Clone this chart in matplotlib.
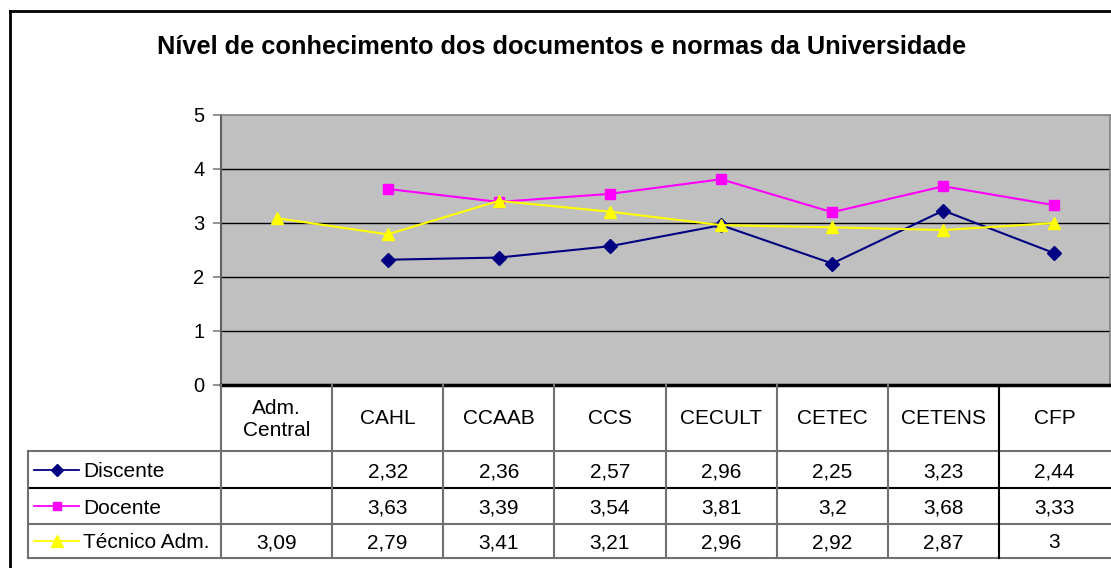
import numpy as np
import matplotlib
matplotlib.use("Agg")
import matplotlib.pyplot as plt
from matplotlib.lines import Line2D

plt.rcParams["font.family"] = ["Liberation Sans", "DejaVu Sans"]

# ── data ──────────────────────────────────────────────────────────────
categories = ["Adm.\nCentral", "CAHL", "CCAAB", "CCS", "CECULT", "CETEC", "CETENS", "CFP"]
discente = [None, 2.32, 2.36, 2.57, 2.96, 2.25, 3.23, 2.44]
docente = [None, 3.63, 3.39, 3.54, 3.81, 3.2, 3.68, 3.33]
tecnico = [3.09, 2.79, 3.41, 3.21, 2.96, 2.92, 2.87, 3]
series_names = ["Discente", "Docente", "Técnico Adm."]
title = "Nível de conhecimento dos documentos e normas da Universidade"

series = [discente, docente, tecnico]
styles = [
    dict(color="#000080", marker="D", ms=7),
    dict(color="#FF00FF", marker="s", ms=7),
    dict(color="#FFFF00", marker="^", ms=9),
]

W, H = 1111, 568
fig = plt.figure(figsize=(W / 100, H / 100), dpi=100)
fig.patch.set_facecolor("white")


def fx(px):
    return px / W


def fy(py):
    return 1 - py / H


# plot area (pixel layout)
L, R, T, B = 221, 1110, 115, 385
ax = fig.add_axes([fx(L), fy(B), fx(R) - fx(L), fy(T) - fy(B)])
ax.set_facecolor("#C0C0C0")
x = np.arange(len(categories))
for vals, st in zip(series, styles):
    y = np.array([np.nan if v is None else v for v in vals], dtype=float)
    ax.plot(x, y, color=st["color"], lw=1.5, marker=st["marker"],
            ms=st["ms"], mfc=st["color"], mec=st["color"], zorder=3)

ax.set_xlim(-0.5, len(categories) - 0.5)
ax.set_ylim(0, 5)
ax.set_yticks(range(6))
ax.set_xticks([])
for v in range(1, 5):
    ax.axhline(v, color="black", lw=1, zorder=1)
ax.tick_params(axis="y", length=6, width=1.2, color="#808080",
               labelsize=14.5, pad=6)
for s in ["top", "right"]:
    ax.spines[s].set_color("#808080")
    ax.spines[s].set_linewidth(1.2)
ax.spines["left"].set_color("#606060")
ax.spines["left"].set_linewidth(1.5)
ax.spines["bottom"].set_color("black")
ax.spines["bottom"].set_linewidth(2.5)

# ── data table below the plot ────────────────────────────────────────
row_edges = [385, 451, 488, 524, 558]
tab = fig.add_axes([fx(L), fy(row_edges[-1]), fx(R) - fx(L),
                    fy(row_edges[0]) - fy(row_edges[-1])])
tab.set_xlim(-0.5, len(categories) - 0.5)
tab.set_ylim(row_edges[-1], row_edges[0])
tab.axis("off")
unit = (R - L) / len(categories)
x_left = -0.5 - (L - 28) / unit
grid_c = "#707070"
fs = 15

for i, cat in enumerate(categories):
    tab.text(i, (row_edges[0] + row_edges[1]) / 2 + 1, cat, ha="center",
             va="center", fontsize=fs, linespacing=1.2)
for r, (vals, name, st) in enumerate(zip(series, series_names, styles)):
    yc = (row_edges[r + 1] + row_edges[r + 2]) / 2
    for i, v in enumerate(vals):
        if v is None:
            continue
        txt = f"{v:g}".replace(".", ",")
        tab.text(i, yc, txt, ha="center", va="center_baseline", fontsize=fs)
    k0 = x_left + 6 / unit
    k1 = x_left + 51 / unit
    tab.add_line(Line2D([k0, k1], [yc, yc], color=st["color"], lw=1.3,
                        clip_on=False))
    tab.plot([(k0 + k1) / 2], [yc], marker=st["marker"], ms=st["ms"] - 1,
             color=st["color"], clip_on=False)
    tab.text(x_left + 55 / unit, yc, name, ha="left", va="center_baseline",
             fontsize=fs, clip_on=False)

# horizontal rules
for yv in row_edges[1:]:
    tab.add_line(Line2D([x_left, len(categories) - 0.5], [yv, yv],
                        color="black" if yv == 488 else grid_c, lw=1.5,
                        clip_on=False))
# vertical rules
for i in range(len(categories)):
    xv = i - 0.5
    tab.add_line(Line2D([xv, xv], [row_edges[0], row_edges[-1]],
                        color="black" if i == 7 else grid_c, lw=1.5,
                        clip_on=False))
tab.add_line(Line2D([x_left, x_left], [row_edges[1], row_edges[-1]],
                    color=grid_c, lw=1.5, clip_on=False))

# ── title and outer frame ─────────────────────────────────────────────
fig.text(fx(562), fy(47), title, ha="center", va="center",
         fontsize=18.3, fontweight="bold")
fig.add_artist(Line2D([fx(10), fx(10)], [fy(11), 0], color="black", lw=2))
fig.add_artist(Line2D([fx(10), 1], [fy(11), fy(11)], color="black", lw=2))

fig.savefig("out.png", dpi=100)
